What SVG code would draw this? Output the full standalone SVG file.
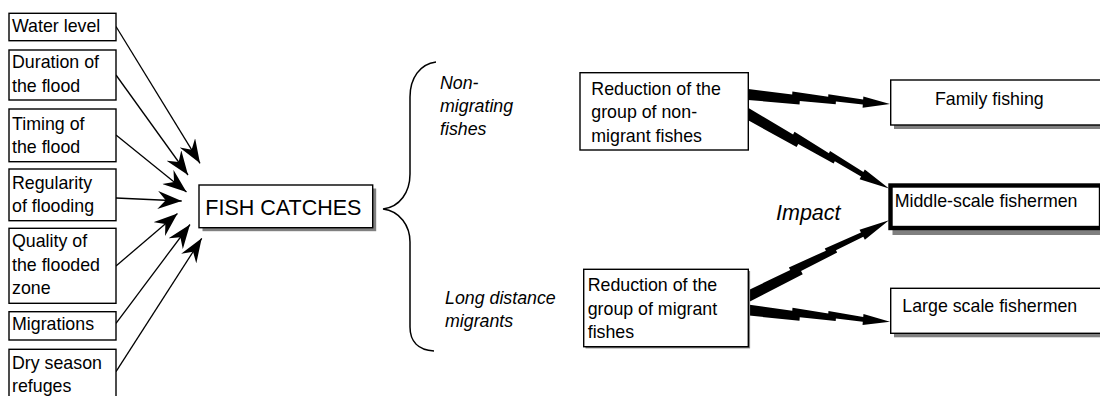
<svg xmlns="http://www.w3.org/2000/svg" width="1100" height="396" viewBox="0 0 1100 396">
<style>
  .box{fill:#fff;stroke:#000;stroke-width:1.4}
  .thick{fill:#fff;stroke:#000;stroke-width:4.4}
  .shadow{fill:#808080;stroke:none}
  text{font-family:"Liberation Sans",Arial,sans-serif;font-size:17.8px;fill:#000}
  .big{font-size:21.5px}
  .it{font-style:italic}
  .arrow{stroke:#000;stroke-width:1.3;fill:none;marker-end:url(#barb)}
  .brace{stroke:#000;stroke-width:1.5;fill:none}
</style>
<defs>
  <marker id="barb" markerUnits="userSpaceOnUse" viewBox="0 0 24 18" markerWidth="24" markerHeight="18" refX="24" refY="9" orient="auto">
    <path d="M24,9 L0,0 L8,9 L0,18 Z" fill="#000"/>
  </marker>
  <path id="bolt" fill="#000" d="M-6,-5.8 L44,-3 L44,-6 L80,-3.2 L80,-5.6 L115,-2.6 L115,-5.6 L142,0 L115,5.6 L115,2.4 L88,1.2 L88,3.8 L52,3 L52,6.5 L-6,5.3 Z"/>
</defs>

<g id="connectors">
  <line class="arrow" x1="116" y1="26.5" x2="200" y2="163.3"/>
  <line class="arrow" x1="116" y1="75" x2="188" y2="175"/>
  <line class="arrow" x1="116" y1="135" x2="186.5" y2="192"/>
  <line class="arrow" x1="116" y1="198" x2="181.7" y2="201"/>
  <line class="arrow" x1="116" y1="266" x2="177.5" y2="213.5"/>
  <line class="arrow" x1="116" y1="323.3" x2="190" y2="224.5"/>
  <line class="arrow" x1="116" y1="371.7" x2="201.7" y2="238.3"/>
  <path class="brace" d="M436,62 C420,64 410,78 410,97 L410,174 C410,192 400,207 383,209 C400,211 410,226 410,242 L410,327 C410,341 418,350 434,351"/>
  <use href="#bolt" transform="translate(748,94.5) rotate(3.83) scale(1.002,1)"/>
  <use href="#bolt" transform="translate(748,114) rotate(27.85) scale(1.123,1)"/>
  <use href="#bolt" transform="translate(748,296.3) rotate(-28.32) scale(1.128,1)"/>
  <use href="#bolt" transform="translate(748,310) rotate(4.71) scale(1.0035,1)"/>
</g>

<g id="water-level">
  <rect class="box" x="9" y="13.3" width="107" height="27.4"/>
  <text x="12" y="32">Water level</text>
</g>
<g id="duration">
  <rect class="box" x="9" y="50" width="107" height="50"/>
  <text x="12" y="68.3">Duration of</text>
  <text x="12" y="92">the flood</text>
</g>
<g id="timing">
  <rect class="box" x="9" y="109" width="107" height="52.7"/>
  <text x="12" y="129.5">Timing of</text>
  <text x="12" y="152.5">the flood</text>
</g>
<g id="regularity">
  <rect class="box" x="9" y="169" width="107" height="51.7"/>
  <text x="12" y="188.5">Regularity</text>
  <text x="12" y="211.5">of flooding</text>
</g>
<g id="quality">
  <rect class="box" x="9" y="228.3" width="107" height="75"/>
  <text x="12" y="247">Quality of</text>
  <text x="12" y="271">the flooded</text>
  <text x="12" y="294">zone</text>
</g>
<g id="migrations">
  <rect class="box" x="9" y="311.7" width="107" height="28.3"/>
  <text x="12" y="329.5">Migrations</text>
</g>
<g id="dry-season">
  <rect class="box" x="9" y="349.3" width="107" height="60"/>
  <text x="12" y="368.5">Dry season</text>
  <text x="12" y="391.5">refuges</text>
</g>

<g id="fish-catches">
  <rect class="shadow" x="202.5" y="188.5" width="173.7" height="42.7"/>
  <rect class="box" x="199" y="185" width="173.7" height="42.7"/>
  <text class="big" x="205.3" y="215">FISH CATCHES</text>
</g>

<g id="label-non-migrating">
  <text class="it" x="440" y="89.3">Non-</text>
  <text class="it" x="440" y="112">migrating</text>
  <text class="it" x="440" y="135">fishes</text>
</g>
<g id="label-long-distance">
  <text class="it" x="445" y="303.5">Long distance</text>
  <text class="it" x="445" y="326.7">migrants</text>
</g>
<g id="label-impact">
  <text class="it big" x="776" y="220">Impact</text>
</g>

<g id="reduction-non-migrant">
  <rect class="box" x="580" y="72.7" width="168.3" height="77.3"/>
  <text x="591.3" y="95">Reduction of the</text>
  <text x="591.3" y="118.3">group of non-</text>
  <text x="591.3" y="141.6">migrant fishes</text>
</g>
<g id="reduction-migrant">
  <rect class="shadow" x="585.5" y="271" width="164.6" height="77.4"/>
  <rect class="box" x="583.7" y="269.3" width="164.6" height="77.4"/>
  <text x="587.7" y="291">Reduction of the</text>
  <text x="587.7" y="314.5">group of migrant</text>
  <text x="587.7" y="337.5">fishes</text>
</g>

<g id="family-fishing">
  <rect class="shadow" x="894" y="84" width="215" height="45"/>
  <rect class="box" x="890.7" y="80" width="215" height="45"/>
  <text x="935" y="105">Family fishing</text>
</g>
<g id="middle-scale">
  <rect class="shadow" x="892.5" y="190" width="215" height="45"/>
  <rect class="thick" x="890.5" y="185.5" width="210.5" height="42.5"/>
  <text x="894.7" y="207.3">Middle-scale fishermen</text>
</g>
<g id="large-scale">
  <rect class="shadow" x="894" y="292.3" width="215" height="45"/>
  <rect class="box" x="890.7" y="288.3" width="215" height="45"/>
  <text x="902.3" y="312.3">Large scale fishermen</text>
</g>
</svg>
